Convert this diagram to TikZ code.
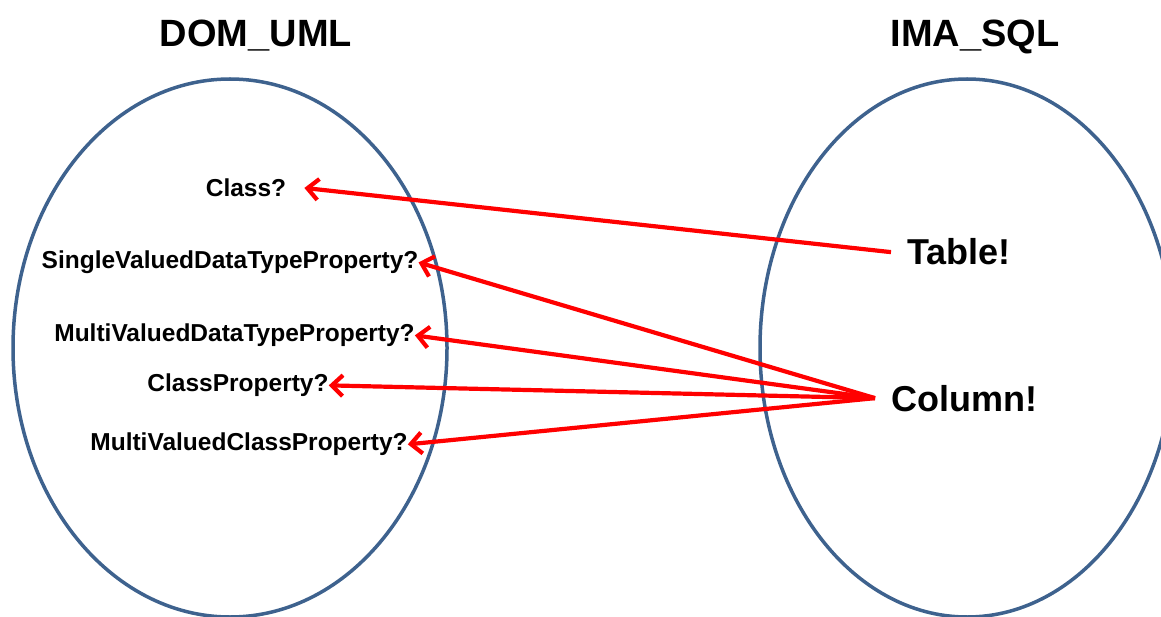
\documentclass[tikz,border=0pt]{standalone}
\usepackage{fontspec}
\setmainfont{Liberation Sans}
\usetikzlibrary{arrows.meta}
\definecolor{ovalblue}{RGB}{62,98,142}
\definecolor{maplink}{RGB}{255,0,0}

\begin{document}
\begin{tikzpicture}[x=1pt,y=-1pt,
		oval/.style={draw=ovalblue, line width=3.5pt},
		side/.style={font=\fontsize{38}{40}\selectfont\bfseries, anchor=base, inner sep=0pt},
		question/.style={font=\fontsize{24.5}{26}\selectfont\bfseries, anchor=base, inner sep=0pt},
		answer/.style={font=\fontsize{36}{38}\selectfont\bfseries, anchor=base west, inner xsep=16pt, inner ysep=0pt},
		maps/.style={draw=maplink, line width=4.2pt, ->, >={Straight Barb[length=11pt,width=21pt]}}]
		\useasboundingbox (0,0) rectangle (1161,617);
		\clip (0,0) rectangle (1161,617);
%		\draw[step=50,gray!30] (0,0) grid (1161,617);
		\draw[oval] (230,348) ellipse [x radius=217, y radius=269];
		\draw[oval] (967,348) ellipse [x radius=207, y radius=269];
		\node[side] (uml) at (256,47) {DOM\_UML};
		\node[side] (sql) at (975,47) {IMA\_SQL};
		% what the UML side asks
		\node[question] (cls) at (246,196.7) {Class?};
		\node[question] (single) at (230,268.7) {SingleValuedDataTypeProperty?};
		\node[question] (multidata) at (234.5,341.7) {MultiValuedDataTypeProperty?};
		\node[question] (clsprop) at (238,391.7) {ClassProperty?};
		\node[question] (multicls) at (249,450.7) {MultiValuedClassProperty?};
		% what the SQL side answers
		\node[answer] (tbl) at (891,265) {Table!};
		\node[answer] (col) at (875,411) {Column!};
		\draw[maps] (tbl.west) -- ([xshift=18pt]cls.east);
		\foreach \q in {single,multidata,clsprop,multicls}
			\draw[maps] (col.west) -- (\q.east);
	\end{tikzpicture}
\end{document}
